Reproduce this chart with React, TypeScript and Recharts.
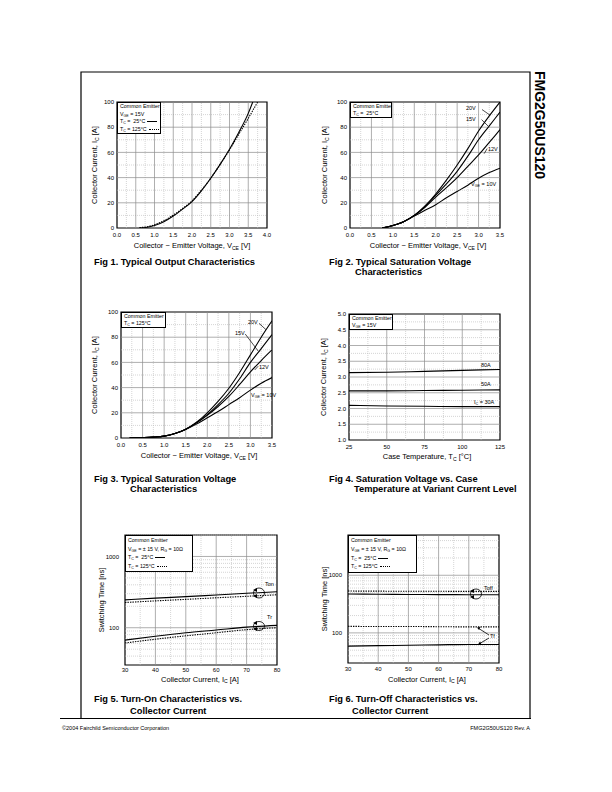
import React from 'react';
import { LineChart, Line, XAxis, YAxis, ReferenceLine, ReferenceArea } from 'recharts';

const FONT = '"Liberation Sans", Arial, Helvetica, sans-serif';

// ---------- Fig 1 : Typical Output Characteristics ----------
const f1V25 = [0.6, 0.8, 1.0, 1.25, 1.5, 1.75, 2.0, 2.25, 2.5, 2.75, 3.0, 3.25, 3.5, 3.62];
const f1I25 = [0, 0.6, 2, 5, 9.5, 15, 21, 29.5, 39.5, 50.5, 62.5, 76, 91, 100];
const f1V125 = [0.6, 0.8, 1.0, 1.25, 1.5, 1.75, 2.0, 2.25, 2.5, 2.75, 3.0, 3.25, 3.5, 3.75];
const f1I125 = [0.3, 1, 2.6, 5.8, 10.2, 15.5, 21.5, 30, 39.5, 50.5, 62, 74.5, 87, 100];
const f1XTicks = [0, 0.5, 1, 1.5, 2, 2.5, 3, 3.5, 4];
const f1YTicks = [0, 20, 40, 60, 80, 100];

// ---------- Fig 2 : Typical Saturation Voltage, Tc = 25C ----------
const f2V = [0.75, 1.0, 1.25, 1.5, 1.75, 2.0, 2.25, 2.5, 2.75, 3.0, 3.25, 3.5];
const f2I20 = [0, 2, 5, 10, 17.5, 27, 38, 50, 63, 77, 89, 100];
const f2I15 = [0, 2, 5, 10, 17, 26, 35, 45, 57, 70, 81, 92];
const f2I12 = [0, 2, 5, 10, 16.5, 24.5, 32, 40, 49, 58, 68, 78];
const f2I10 = [0, 2, 5, 9.5, 14, 18.5, 24, 29, 34, 39.5, 44, 47.5];
const f23XTicks = [0, 0.5, 1, 1.5, 2, 2.5, 3, 3.5];

// ---------- Fig 3 : Typical Saturation Voltage, Tc = 125C ----------
const f3V = [0.2, 0.5, 0.75, 1.0, 1.25, 1.5, 1.75, 2.0, 2.25, 2.5, 2.75, 3.0, 3.25, 3.5];
const f3I20 = [0, 0.3, 0.7, 1.5, 3.5, 7, 12.5, 20, 29, 39.5, 52, 66, 80, 93];
const f3I15 = [0, 0.3, 0.7, 1.5, 3.5, 7, 12, 18.5, 26.5, 35.5, 47, 60, 71, 82];
const f3I12 = [0, 0.3, 0.7, 1.5, 3.5, 7, 12, 18, 25, 33, 42.5, 52.5, 61.5, 70];
const f3I10 = [0, 0.3, 0.7, 1.5, 3.5, 6.8, 11, 16, 21, 26.5, 32, 38, 43.5, 48];

// ---------- Fig 4 : Saturation Voltage vs Case Temperature ----------
const f4T = [25, 50, 75, 100, 125];
const f4V80 = [3.14, 3.15, 3.18, 3.21, 3.24];
const f4V50 = [2.56, 2.56, 2.57, 2.58, 2.59];
const f4V30 = [2.1, 2.08, 2.07, 2.06, 2.06];
const f4YTicks = [1, 1.5, 2, 2.5, 3, 3.5, 4, 4.5, 5];

// ---------- Fig 5 : Turn-On vs Collector Current ----------
const f56Ic = [30, 40, 50, 60, 70, 80];
const f5Ton25 = [246, 260, 273, 288, 304, 320];
const f5Ton125 = [226, 238, 250, 263, 276, 290];
const f5Tr25 = [67, 76, 85, 93, 102, 108];
const f5Tr125 = [61, 69, 77, 85, 94, 100];

// ---------- Fig 6 : Turn-Off vs Collector Current ----------
const f6Toff25 = [472, 468, 465, 462, 460, 460];
const f6Toff125 = [532, 530, 528, 527, 525, 525];
const f6Tf25 = [59, 60, 61, 62, 63, 63];
const f6Tf125 = [130, 129, 129, 128, 127, 127];
const f56XTicks = [30, 40, 50, 60, 70, 80];
const f56YTicks = [100, 1000];

type Pt = { x: number; y: number };
type S = { pts: Pt[]; dashed?: boolean };
type Seg = [Pt, Pt];
const zip = (xs: number[], ys: number[]): Pt[] => xs.map((x, i) => ({ x, y: ys[i] }));
const range = (a: number, b: number, s: number) => {
  const r: number[] = [];
  for (let v = a; v <= b + 1e-9; v += s) r.push(Math.round(v * 1000) / 1000);
  return r;
};

interface PlotProps {
  left: number; top: number; w: number; h: number;
  xDomain: [number, number]; yDomain: [number, number];
  xTicks: number[]; yTicks: number[];
  xFmt: (v: number) => string; yFmt: (v: number) => string;
  log?: boolean;
  xMajor: number[]; xMinor: number[]; yMajor: number[]; yMinor: number[];
  series: S[];
  segs?: Seg[];
  xGap: number; yGap: number;
}

const MAJ = '#8c8c8c';
const MIN = '#b8b8b8';

function Plot(p: PlotProps) {
  const ML = 36, MT = 4, MR = 6, XH = 18;
  const tick = { fontSize: 6, fill: '#000', fontFamily: FONT };
  return (
    <div style={{ position: 'absolute', left: p.left - ML, top: p.top - MT }}>
      <LineChart width={p.w + ML + MR} height={p.h + MT + XH} margin={{ top: MT, right: MR, bottom: 0, left: 0 }}>
        <XAxis type="number" dataKey="x" domain={p.xDomain} ticks={p.xTicks} interval={0} tickFormatter={p.xFmt}
          axisLine={false} tickLine={false} tickSize={p.xGap} tickMargin={0} height={XH} tick={tick} allowDataOverflow />
        <YAxis type="number" domain={p.yDomain} ticks={p.yTicks} interval={0} tickFormatter={p.yFmt}
          scale={p.log ? 'log' : 'linear'} axisLine={false} tickLine={false} tickSize={p.yGap} tickMargin={0}
          width={ML} tick={tick} allowDataOverflow />
        {p.xMinor.map((v) => <ReferenceLine key={'xn' + v} x={v} stroke={MIN} strokeWidth={0.6} strokeDasharray="1 1" />)}
        {p.yMinor.map((v) => <ReferenceLine key={'yn' + v} y={v} stroke={MIN} strokeWidth={0.6} strokeDasharray="1 1" />)}
        {p.xMajor.map((v) => <ReferenceLine key={'xj' + v} x={v} stroke={MAJ} strokeWidth={0.7} />)}
        {p.yMajor.map((v) => <ReferenceLine key={'yj' + v} y={v} stroke={MAJ} strokeWidth={0.7} />)}
        {(p.segs || []).map((s, i) => <ReferenceLine key={'sg' + i} segment={s} stroke="#000" strokeWidth={0.7} ifOverflow="visible" />)}
        {p.series.map((s, i) => (
          <Line key={'s' + i} data={s.pts} dataKey="y" type="monotone" stroke="#000" strokeWidth={1.1}
            strokeDasharray={s.dashed ? '1.4 1.1' : undefined} dot={false} isAnimationActive={false} />
        ))}
        <ReferenceArea x1={p.xDomain[0]} x2={p.xDomain[1]} y1={p.yDomain[0]} y2={p.yDomain[1]}
          fill="#fff" fillOpacity={0} stroke="#000" strokeWidth={1.2} ifOverflow="visible" />
      </LineChart>
    </div>
  );
}

const Sub = ({ c }: { c: string }) => (
  <span style={{ fontSize: '0.68em', position: 'relative', top: '0.3em', lineHeight: 0 }}>{c}</span>
);

function Txt({ x, y, size = 5.5, bold, anchor = 'start', rot, children }: any) {
  const tx = anchor === 'middle' ? '-50%' : anchor === 'end' ? '-100%' : '0';
  return (
    <div style={{
      position: 'absolute', left: x, top: y, fontSize: size, fontWeight: bold ? 700 : 400, lineHeight: 1,
      whiteSpace: 'nowrap', transform: `translate(${tx}, -50%)${rot ? ` rotate(${rot}deg)` : ''}`,
    }}>{children}</div>
  );
}

const Solid = () => <span style={{ display: 'inline-block', width: 10, borderTop: '1px solid #000', verticalAlign: 'middle', marginLeft: 2 }} />;
const Dotted = () => <span style={{ display: 'inline-block', width: 10, borderTop: '1px dotted #000', verticalAlign: 'middle', marginLeft: 2 }} />;

function LegendBox({ left, top, w, h, lh, lines }: { left: number; top: number; w: number; h: number; lh: number; lines: React.ReactNode[] }) {
  return (
    <div style={{
      position: 'absolute', left, top, width: w, height: h, boxSizing: 'border-box', border: '1px solid #000',
      background: '#fff', fontSize: 5.3, lineHeight: `${lh}px`, padding: '0 0 0 2px', whiteSpace: 'nowrap', overflow: 'hidden',
    }}>
      {lines.map((l, i) => <div key={i} style={{ height: lh }}>{l}</div>)}
    </div>
  );
}

const fmt1 = (v: number) => v.toFixed(1);
const fmt0 = (v: number) => String(v);

export default function App() {
  const yMajor = [20, 40, 60, 80];
  const yMinor = [10, 30, 50, 70, 90];
  const logMinor5 = [40, 50, 60, 70, 80, 90, 200, 300, 400, 500, 600, 700, 800, 900, 2000];
  const logMinor6 = [40, 50, 60, 70, 80, 90, 200, 300, 400, 500, 600, 700, 800, 900, 2000, 3000, 4000];
  return (
    <div style={{ position: 'absolute', left: 0, top: 0, width: 612, height: 792, background: '#fff', fontFamily: FONT, color: '#000', overflow: 'hidden' }}>
      {/* Fig 1 */}
      <Plot left={117} top={102} w={150} h={126} xDomain={[0, 4]} yDomain={[0, 100]} xTicks={f1XTicks} yTicks={f1YTicks}
        xFmt={fmt1} yFmt={fmt0} xMajor={range(0.5, 3.5, 0.5)} xMinor={range(0.25, 3.75, 0.5)} yMajor={yMajor} yMinor={yMinor}
        xGap={5} yGap={3}
        series={[{ pts: zip(f1V25, f1I25) }, { pts: zip(f1V125, f1I125), dashed: true }]} />
      {/* Fig 2 */}
      <Plot left={350} top={102} w={150} h={126} xDomain={[0, 3.5]} yDomain={[0, 100]} xTicks={f23XTicks} yTicks={f1YTicks}
        xFmt={fmt1} yFmt={fmt0} xMajor={range(0.5, 3, 0.5)} xMinor={range(0.25, 3.25, 0.5)} yMajor={yMajor} yMinor={yMinor}
        xGap={5} yGap={3}
        series={[{ pts: zip(f2V, f2I20) }, { pts: zip(f2V, f2I15) }, { pts: zip(f2V, f2I12) }, { pts: zip(f2V, f2I10) }]}
        segs={[[{ x: 3.08, y: 94 }, { x: 3.27, y: 89.5 }], [{ x: 3.07, y: 86 }, { x: 3.22, y: 81 }], [{ x: 3.13, y: 59 }, { x: 3.2, y: 63 }]]} />
      {/* Fig 3 */}
      <Plot left={121} top={312} w={151} h={126} xDomain={[0, 3.5]} yDomain={[0, 100]} xTicks={f23XTicks} yTicks={f1YTicks}
        xFmt={fmt1} yFmt={fmt0} xMajor={range(0.5, 3, 0.5)} xMinor={range(0.25, 3.25, 0.5)} yMajor={yMajor} yMinor={yMinor}
        xGap={5} yGap={3}
        series={[{ pts: zip(f3V, f3I20) }, { pts: zip(f3V, f3I15) }, { pts: zip(f3V, f3I12) }, { pts: zip(f3V, f3I10) }]}
        segs={[[{ x: 3.2, y: 91 }, { x: 3.36, y: 86 }], [{ x: 2.88, y: 82.5 }, { x: 3.18, y: 69 }], [{ x: 3.1, y: 54 }, { x: 3.18, y: 57 }]]} />
      {/* Fig 4 */}
      <Plot left={349} top={314} w={151} h={126} xDomain={[25, 125]} yDomain={[1, 5]} xTicks={[25, 50, 75, 100, 125]} yTicks={f4YTicks}
        xFmt={fmt0} yFmt={fmt1} xMajor={[50, 75, 100]} xMinor={[37.5, 62.5, 87.5, 112.5]} yMajor={range(1.5, 4.5, 0.5)} yMinor={range(1.25, 4.75, 0.5)}
        xGap={5} yGap={3}
        series={[{ pts: zip(f4T, f4V80) }, { pts: zip(f4T, f4V50) }, { pts: zip(f4T, f4V30) }]} />
      {/* Fig 5 */}
      <Plot left={125} top={535} w={152} h={130} xDomain={[30, 80]} yDomain={[30, 2000]} xTicks={f56XTicks} yTicks={f56YTicks} log
        xFmt={fmt0} yFmt={fmt0} xMajor={[40, 50, 60, 70]} xMinor={[35, 45, 55, 65, 75]} yMajor={[100, 1000]} yMinor={logMinor5}
        xGap={3} yGap={6}
        series={[{ pts: zip(f56Ic, f5Ton25) }, { pts: zip(f56Ic, f5Ton125), dashed: true }, { pts: zip(f56Ic, f5Tr25) }, { pts: zip(f56Ic, f5Tr125), dashed: true }]} />
      {/* Fig 6 */}
      <Plot left={348} top={535} w={151} h={128} xDomain={[30, 80]} yDomain={[30, 5000]} xTicks={f56XTicks} yTicks={f56YTicks} log
        xFmt={fmt0} yFmt={fmt0} xMajor={[40, 50, 60, 70]} xMinor={[35, 45, 55, 65, 75]} yMajor={[100, 1000]} yMinor={logMinor6}
        xGap={4} yGap={6}
        series={[{ pts: zip(f56Ic, f6Toff25) }, { pts: zip(f56Ic, f6Toff125), dashed: true }, { pts: zip(f56Ic, f6Tf25) }, { pts: zip(f56Ic, f6Tf125), dashed: true }]} />

      {/* Legends */}
      <LegendBox left={117} top={102} w={44} h={32} lh={7.6} lines={[
        'Common Emitter', <>V<Sub c="GE" /> = 15V</>, <>T<Sub c="C" /> = &nbsp;25°C<Solid /></>, <>T<Sub c="C" /> = 125°C<Dotted /></>]} />
      <LegendBox left={350} top={102} w={42} h={16} lh={7.3} lines={['Common Emitter', <>T<Sub c="C" /> = &nbsp;25°C</>]} />
      <LegendBox left={121} top={312} w={45} h={16} lh={7.3} lines={['Common Emitter', <>T<Sub c="C" /> = 125°C</>]} />
      <LegendBox left={349} top={314} w={44} h={16} lh={7.3} lines={['Common Emitter', <>V<Sub c="GE" /> = 15V</>]} />
      <LegendBox left={125} top={535} w={68} h={37} lh={8.6} lines={[
        'Common Emitter', <>V<Sub c="GE" /> = ± 15 V, R<Sub c="G" /> = 10Ω</>, <>T<Sub c="C" /> = &nbsp;25°C<Solid /></>, <>T<Sub c="C" /> = 125°C<Dotted /></>]} />
      <LegendBox left={348} top={535} w={69} h={38} lh={8.8} lines={[
        'Common Emitter', <>V<Sub c="GE" /> = ± 15 V, R<Sub c="G" /> = 10Ω</>, <>T<Sub c="C" /> = &nbsp;25°C<Solid /></>, <>T<Sub c="C" /> = 125°C<Dotted /></>]} />

      {/* Curve labels */}
      <Txt x={466} y={109}>20V</Txt>
      <Txt x={466} y={119.5}>15V</Txt>
      <Txt x={488} y={150}>12V</Txt>
      <Txt x={471} y={185}>V<Sub c="GE" /> = 10V</Txt>
      <Txt x={248} y={323}>20V</Txt>
      <Txt x={235} y={334}>15V</Txt>
      <Txt x={259} y={368}>12V</Txt>
      <Txt x={251} y={396}>V<Sub c="GE" /> = 10V</Txt>
      <Txt x={481} y={366}>80A</Txt>
      <Txt x={481} y={385}>50A</Txt>
      <Txt x={474} y={402.5}>I<Sub c="C" /> = 30A</Txt>
      <Txt x={265} y={585}>Ton</Txt>
      <Txt x={267} y={617.5}>Tr</Txt>
      <Txt x={484} y={588.5}>Toff</Txt>
      <Txt x={490} y={637}>Tf</Txt>

      {/* Axis titles */}
      <Txt x={95} y={165} size={7.5} anchor="middle" rot={-90}>Collector Current, I<Sub c="C" /> [A]</Txt>
      <Txt x={192} y={246} size={7.5} anchor="middle">Collector − Emitter Voltage, V<Sub c="CE" /> [V]</Txt>
      <Txt x={325} y={165} size={7.5} anchor="middle" rot={-90}>Collector Current, I<Sub c="C" /> [A]</Txt>
      <Txt x={428} y={246} size={7.5} anchor="middle">Collector − Emitter Voltage, V<Sub c="CE" /> [V]</Txt>
      <Txt x={95} y={375} size={7.5} anchor="middle" rot={-90}>Collector Current, I<Sub c="C" /> [A]</Txt>
      <Txt x={199} y={456} size={7.5} anchor="middle">Collector − Emitter Voltage, V<Sub c="CE" /> [V]</Txt>
      <Txt x={324} y={377} size={7.5} anchor="middle" rot={-90}>Collector Current, I<Sub c="C" /> [A]</Txt>
      <Txt x={427} y={457} size={7.5} anchor="middle">Case Temperature, T<Sub c="C" /> [°C]</Txt>
      <Txt x={102} y={600} size={7.5} anchor="middle" rot={-90}>Switching Time [ns]</Txt>
      <Txt x={200} y={679.5} size={7.5} anchor="middle">Collector Current, I<Sub c="C" /> [A]</Txt>
      <Txt x={325} y={599} size={7.5} anchor="middle" rot={-90}>Switching Time [ns]</Txt>
      <Txt x={427} y={679.5} size={7.5} anchor="middle">Collector Current, I<Sub c="C" /> [A]</Txt>

      {/* Captions */}
      <Txt x={94} y={263} size={9.3} bold>Fig 1. Typical Output Characteristics</Txt>
      <Txt x={329} y={263} size={9.3} bold>Fig 2. Typical Saturation Voltage</Txt>
      <Txt x={355} y={273} size={9.3} bold>Characteristics</Txt>
      <Txt x={94} y={479.5} size={9.3} bold>Fig 3. Typical Saturation Voltage</Txt>
      <Txt x={130} y={490} size={9.3} bold>Characteristics</Txt>
      <Txt x={329} y={479.5} size={9.3} bold>Fig 4. Saturation Voltage vs. Case</Txt>
      <Txt x={354} y={490} size={9.3} bold>Temperature at Variant Current Level</Txt>
      <Txt x={94} y={700} size={9.3} bold>Fig 5. Turn-On Characteristics vs.</Txt>
      <Txt x={130} y={711.5} size={9.3} bold>Collector Current</Txt>
      <Txt x={329} y={700} size={9.3} bold>Fig 6. Turn-Off Characteristics vs.</Txt>
      <Txt x={352} y={711.5} size={9.3} bold>Collector Current</Txt>

      {/* Side title and footer */}
      <Txt x={540} y={125} size={14} bold anchor="middle" rot={90}>FMG2G50US120</Txt>
      <Txt x={62} y={729} size={5.5}>©2004 Fairchild Semiconductor Corporation</Txt>
      <Txt x={530} y={729} size={5.5} anchor="end">FMG2G50US120 Rev. A</Txt>

      {/* Frame, footer rule, loop annotations */}
      <svg width={612} height={792} style={{ position: 'absolute', left: 0, top: 0, pointerEvents: 'none' }}>
        <polyline points="81,718 81,72 530,72 530,718" fill="none" stroke="#000" strokeWidth={1.2} />
        <line x1={60} y1={718.5} x2={531} y2={718.5} stroke="#000" strokeWidth={1.2} />
        <g fill="none" stroke="#000" strokeWidth={0.8}>
          <ellipse cx={259} cy={593} rx={5.5} ry={5} />
          <ellipse cx={259} cy={626} rx={5.5} ry={4.5} />
          <ellipse cx={476} cy={594} rx={5.5} ry={5} />
          <line x1={489} y1={635} x2={478} y2={628} />
          <line x1={489} y1={638} x2={479} y2={644} />
        </g>
        <g fill="#000">
          <polygon points="253,590 257,588 257,592" />
          <polygon points="253,596 257,594 257,598" />
          <polygon points="253,623 257,621 257,625" />
          <polygon points="253,629 257,627 257,631" />
          <polygon points="470,591 474,589 474,593" />
          <polygon points="470,597 474,595 474,599" />
          <polygon points="477,627.5 480.5,627 479,630" />
          <polygon points="478,644.5 480,641.5 481.5,644.5" />
        </g>
      </svg>
    </div>
  );
}
